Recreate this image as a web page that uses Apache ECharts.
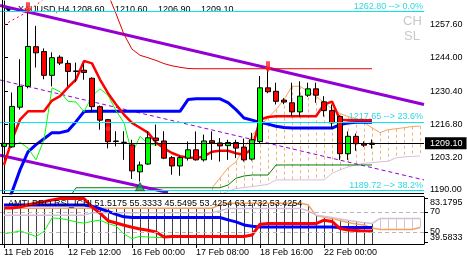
<!DOCTYPE html>
<html><head><meta charset="utf-8">
<script src="https://cdn.jsdelivr.net/npm/echarts@6/dist/echarts.min.js"></script>
<style>html,body{margin:0;padding:0;background:#fff}#c{width:467px;height:265px}</style>
</head><body><div id="c"></div>
<script>
// ---------- DATA ----------
const categories = Array.from({length: 53}, (_, i) => String(i));
const tickIndex = [0, 8, 16, 24, 32, 40];
const tickLabels = ['11 Feb 2016', '12 Feb 12:00', '16 Feb 00:00', '17 Feb 08:00', '18 Feb 16:00', '22 Feb 00:00'];
const priceTicks = [1257.60, 1244.00, 1230.40, 1216.80, 1203.20, 1190.00];
const rsiTicks = [83.1795, 70, 50, 39.5833];

// [open, close, low, high]
const candles = [
  [1207.8,1209.0,1207.5,1209.3],[1207.6,1224.1,1207.2,1229.8],[1223.8,1232.3,1222.8,1243.4],[1232.3,1248.6,1231.5,1262.8],
  [1248.5,1246.0,1240.0,1257.0],[1246.5,1236.8,1235.2,1247.8],[1236.8,1244.0,1232.3,1246.2],[1244.2,1241.8,1241.0,1245.0],
  [1241.7,1238.4,1232.3,1243.0],[1238.6,1238.4,1234.0,1242.0],[1238.9,1238.0,1235.0,1241.5],[1235.6,1224.0,1221.7,1236.0],
  [1224.0,1218.5,1214.6,1224.5],[1218.7,1209.7,1207.0,1219.0],[1210.0,1209.8,1207.8,1214.0],[1209.5,1209.3,1202.3,1214.0],
  [1208.4,1197.8,1194.5,1210.5],[1197.4,1200.2,1193.4,1201.6],[1200.6,1211.3,1200.3,1214.0],[1211.2,1210.2,1208.0,1216.7],
  [1210.0,1203.0,1202.6,1214.0],[1203.2,1199.8,1196.2,1203.8],[1199.8,1203.2,1195.8,1204.0],[1203.0,1206.4,1202.0,1209.8],
  [1206.4,1202.3,1202.0,1213.9],[1202.3,1210.0,1201.6,1212.6],[1210.1,1209.2,1202.3,1213.9],[1209.2,1208.0,1201.6,1211.2],
  [1208.1,1209.4,1202.3,1210.5],[1209.4,1207.1,1203.0,1210.5],[1207.5,1202.3,1201.6,1211.0],[1202.6,1210.5,1202.0,1213.3],
  [1209.8,1231.7,1209.0,1236.5],[1231.7,1230.1,1229.5,1239.3],[1230.3,1226.2,1224.9,1233.8],[1226.7,1225.9,1225.0,1227.5],
  [1225.6,1221.9,1220.1,1233.8],[1221.9,1228.3,1220.0,1234.4],[1228.7,1231.3,1228.0,1233.8],[1231.3,1228.7,1225.6,1233.8],
  [1226.0,1222.4,1220.0,1228.3],[1222.4,1217.4,1214.9,1224.9],[1220.0,1204.8,1202.3,1220.5],[1204.8,1211.9,1202.3,1213.9],
  [1211.9,1208.9,1206.0,1213.0],[1208.9,1208.3,1207.6,1209.8],[1208.6,1209.1,1206.9,1210.6]
];

const redThick = [1200.2,1210.5,1218.7,1222.1,1222.1,1222.1,1226.5,1228.3,1231.9,1235.1,1242.7,1241.7,1235.1,1229.5,1224.9,1220.8,
  1217.4,1215.4,1213.4,1209.4,1207.0,1205.1,1203.8,1203.3,1203.1,1203.7,1205.6,1206.0,1206.0,1205.0,1204.4,1206.8,
  1218.7,1219.8,1220.1,1220.1,1220.1,1220.1,1220.1,1220.1,1224.9,1226.1,1218.7,1218.5,1218.5,1218.5,1218.5];

const blueThick = [1181.0,1189.2,1198.2,1205.6,1208.5,1210.9,1213.4,1213.4,1214.2,1217.9,1222.0,
  1222.1,1222.1,1222.1,1222.1,1222.1,1222.1,1222.1,1222.1,1222.1,1222.1,1222.1,1222.1,
  1226.9,1227.2,1227.2,1227.2,1227.2,1225.7,1222.8,1219.4,1218.5,1217.6,1216.9,1216.0,1215.5,
  1215.3,1215.3,1215.3,1215.3,1215.3,1215.3,1216.7,1217.3,1217.6,1217.6,1217.6];

const redThinDotted = [1257.3,1259.3,1261.0,1263.0,1265.5,1268.0];
const redThin = [null,null,null,null,null,null,null,null,null,null,null,null,null,
  1270.0,1262.0,1253.5,1247.5,1245.0,1244.0,1242.9,1241.6,1240.7,1240.1,1239.6,
  1239.5,1239.5,1239.5,1239.5,1239.5,1239.5,1239.5,1239.5,1239.5,1239.5,1239.5,1239.5,
  1239.5,1239.5,1239.5,1239.5,1239.5,1239.5,1239.5,1239.5,1239.5,1239.5,1239.5];

const darkGreen = [null,null,null,null,null,null,null,null,1186.0,
  1190.9,1190.9,1190.9,1190.9,1190.9,1190.9,1190.9,1190.9,1190.9,1190.9,1190.9,1190.9,1190.9,1190.9,1190.9,1190.9,1190.9,1190.9,1190.9,
  1192.0,1194.8,1195.7,1196.1,1196.1,1196.1,
  1200.2,1200.2,1200.2,1200.2,1200.2,1200.2,1200.2,1200.2,1200.2,1200.2,1200.2,1200.2,1200.2];

const senkouA = [null,null,null,null,null,null,null,null,null,null,null,null,null,null,null,null,null,null,null,null,null,null,null,null,null,null,
  1190.8,1194.9,1199.0,1201.5,1207.3,1212.2,1216.0,1219.5,1222.8,1226.9,1232.3,1232.4,1230.2,1228.2,1225.7,1223.2,
  1221.2,1220.0,1219.1,1217.5,1215.4,1213.4,1214.6,1215.0,1215.4,1215.9,1216.1];
const senkouB = [null,null,null,null,null,null,null,null,null,null,null,null,null,null,null,null,null,null,null,null,null,null,null,null,null,null,
  1187.0,1188.0,1189.5,1190.6,1191.0,1191.4,1191.8,1192.3,1194.1,1194.1,1194.1,1194.1,1194.1,1194.1,1194.1,1196.8,
  1198.2,1199.4,1200.3,1200.9,1201.1,1201.5,1201.7,1203.1,1203.5,1203.7,1203.9];

// trend channel lines [barPosition, price]
const channelTop = [[-0.5, 1265.3], [52.5, 1224.9]];
const channelMid = [[-0.5, 1234.9], [52.5, 1194.1]];
const channelLow = [[-0.5, 1204.2], [20.5, 1189.0]];

const arrowsDown = [[3, 1264.4], [33, 1240.3]];
const arrowsUp = [[17, 1191.3]];
const dots = [[13, 1215.0]];

const fibLevels = [1262.80, 1217.65, 1189.72];
const fibNames = ['0.0%', '23.6%', '38.2%'];
const lastPrice = 1209.10;
const titleValues = ['1208.60', '1210.60', '1206.90', '1209.10'];
const subTitle = 'AMTLPRO RSI_ICHI 51.5175 55.3333 45.5495 53.4254 63.1732 53.4254';

// RSI-Ichimoku sub panel
const rsiRed = [73.7,73.7,74.7,76.7,78.7,80,81.7,83.2,83.2,83.2,83.2,74.7,68.7,61.2,58.9,56.7,54.7,52.9,51.7,50,45,
  45.5,45.5,45.5,45.5,45.5,45.5,45.5,45.5,45.5,45.5,47,57.7,58.4,58.4,58.4,58.4,58.4,58.4,58.4,61.7,60.5,53.4,52,51.5,51,51];
const rsiBlue = [76.7,76.7,76.7,76.7,76.7,76.7,76.7,76.7,76.7,76.7,76.7,75.5,73,70.5,67.5,65,
  64.4,64.4,64.4,64.4,64.4,64.4,64.4,64.4,64.4,64.4,64.4,64.4,62,60,57,55.7,
  55,55,55,55,55,55,55,55,55,55,54.5,54.5,54.5,54.5,54.5];
const rsiGreen = [48.4,49.5,51,48.5,45.5,50.5,64,63.4,62,60,58.8,60.5,61.7,58.4,56,48,43.4,45.7,45,44.6,44.4];
const rsiA = [73.5,73.5,73.5,73.5,73.5,73.5,73.5,73.5,73.5,73.5,73.5,73.5,73.5,73.5,73.5,73.5,73.5,73.5,73.5,73.5,73.5,73.5,73.5,73.5,73.5,73.5,73.5,
  77,78.5,78.5,78.5,78.5,78.5,78.5,78.5,78.5,78.5,78.5,77,66.5,64.5,63.5,61.5,59.5,58,57,54,52.5,52.5,52.5,52.5,52.5,54.5];
const rsiB = [66.7,66.7,66.7,66.7,66.7,66.7,66.7,66.7,66.7,66.7,66.7,69,69,69,69,69,69,69,69,69,69,69,69,69,69,69,69,
  71,73.4,73.4,73.4,73.4,73.4,73.4,73.4,73.4,73.4,73.4,71,66.7,65.5,64.5,63,61.7,60.5,59.3,58.4,63.4,63.4,63.4,63.4,63.4,63.4];

// ---------- CHART ----------
const MAIN_MIN = 1188.76, MAIN_MAX = 1267.16;
const SUB_MIN = 38.1, SUB_MAX = 84.7;
const FONT = 'Liberation Sans';
const chikou = candles.slice(26).map(c => c[1]);

function vlines(color, width, dash) {
  return function (params, api) {
    const x = api.value(0);
    const p1 = api.coord([x, api.value(1)]);
    const p2 = api.coord([x, api.value(2)]);
    const px = Math.round(p1[0]) + 0.5;
    return { type: 'line', shape: { x1: px, y1: p1[1], x2: px, y2: p2[1] },
      style: { stroke: color, lineWidth: width, lineDash: dash } };
  };
}
const cloudMain = [];
senkouA.forEach((a, i) => { if (a != null && senkouB[i] != null) cloudMain.push([i, a, senkouB[i]]); });
const histSub = [], cloudSub = [];
for (let i = 0; i < 53; i++) {
  if (i < candles.length) histSub.push([i, SUB_MIN, Math.max(rsiA[i], rsiB[i])]);
  else cloudSub.push([i, rsiA[i], rsiB[i]]);
}

const lineS = (name, data, color, width, extra) => Object.assign({
  type: 'line', name, data, xAxisIndex: 0, yAxisIndex: 0, symbol: 'none', silent: true,
  lineStyle: { color, width }, connectNulls: false, clip: true, z: 3
}, extra || {});

const fibMark = {
  type: 'line', xAxisIndex: 0, yAxisIndex: 0, data: [], symbol: 'none', silent: true,
  markLine: {
    symbol: 'none', silent: true, animation: false,
    data: fibLevels.map((v, k) => ({
      yAxis: v,
      lineStyle: { color: '#00e8f0', width: 1, type: 'solid' },
      label: { show: true, position: 'insideEndTop', distance: [1, 1],
        formatter: v.toFixed(2) + ' --> ' + fibNames[k],
        color: '#2fd9e0', fontSize: 9, fontFamily: FONT }
    })).concat([{
      yAxis: lastPrice,
      lineStyle: { color: '#000', width: 1, type: 'solid' },
      label: { show: true, position: 'end', distance: 1, formatter: lastPrice.toFixed(2),
        color: '#fff', backgroundColor: '#000', padding: [2, 4, 1, 5], fontSize: 9, fontFamily: FONT }
    }])
  },
  z: 2
};

// y-pixel helpers for the two extreme RSI labels (placed inside the panel like the original)
const option = {
  animation: false,
  textStyle: { fontFamily: FONT },
  grid: [
    { left: 0, right: 43, top: 1, height: 192, show: false },
    { left: 0, right: 43, top: 197, height: 47, show: false }
  ],
  xAxis: [
    { type: 'category', gridIndex: 0, data: categories, boundaryGap: true,
      axisLine: { show: false }, axisTick: { show: false }, axisLabel: { show: false }, splitLine: { show: false } },
    { type: 'category', gridIndex: 1, data: categories, boundaryGap: true,
      axisLine: { show: true, lineStyle: { color: '#000', width: 1 } },
      axisTick: { show: true, alignWithLabel: true, length: 4, interval: (i) => tickIndex.includes(i), lineStyle: { color: '#000' } },
      axisLabel: { show: true, interval: (i) => tickIndex.includes(i), align: 'left', margin: 4,
        formatter: (v, i) => { const k = tickIndex.indexOf(i); return k >= 0 ? tickLabels[k] : ''; },
        fontSize: 9, color: '#000', fontFamily: FONT },
      splitLine: { show: false } },
    { type: 'value', gridIndex: 0, min: -0.5, max: 52.5, show: false }
  ],
  yAxis: [
    { type: 'value', gridIndex: 0, position: 'right', min: MAIN_MIN, max: MAIN_MAX, scale: true,
      axisLine: { show: true, lineStyle: { color: '#000' } },
      axisTick: { show: true, length: 4, customValues: priceTicks, lineStyle: { color: '#000' } },
      axisLabel: { show: true, customValues: priceTicks, formatter: v => v.toFixed(2), margin: 6,
        fontSize: 9, color: '#000', fontFamily: FONT },
      splitLine: { show: false } },
    { type: 'value', gridIndex: 1, position: 'right', min: SUB_MIN, max: SUB_MAX, scale: true,
      axisLine: { show: true, lineStyle: { color: '#000' } },
      axisTick: { show: true, length: 4, customValues: rsiTicks, lineStyle: { color: '#000' } },
      axisLabel: { show: true, customValues: [rsiTicks[1], rsiTicks[2]], margin: 6, fontSize: 9, color: '#000', fontFamily: FONT,
        formatter: v => String(Math.round(v)) },
      splitLine: { show: false } }
  ],
  graphic: [
    { type: 'polygon', z: 0, shape: { points: [[5, 8], [12, 8], [8.5, 12]] }, style: { fill: '#000' } },
    { type: 'text', z: 0, x: 18, y: 10, style: { text: 'XAUUSD,H4', font: '9px "Liberation Sans"', fill: '#000', verticalAlign: 'middle' } },
    { type: 'text', z: 0, x: 72, y: 10, style: { text: titleValues[0], font: '9px "Liberation Sans"', fill: '#000', verticalAlign: 'middle' } },
    { type: 'text', z: 0, x: 115, y: 10, style: { text: titleValues[1], font: '9px "Liberation Sans"', fill: '#000', verticalAlign: 'middle' } },
    { type: 'text', z: 0, x: 158, y: 10, style: { text: titleValues[2], font: '9px "Liberation Sans"', fill: '#000', verticalAlign: 'middle' } },
    { type: 'text', z: 0, x: 201, y: 10, style: { text: titleValues[3], font: '9px "Liberation Sans"', fill: '#000', verticalAlign: 'middle' } },
    { type: 'text', z: 0, x: 403, y: 21, style: { text: 'CH', font: '13px "Liberation Sans"', fill: '#c8c8c8', verticalAlign: 'middle' } },
    { type: 'text', z: 0, x: 404, y: 36, style: { text: 'SL', font: '13px "Liberation Sans"', fill: '#c8c8c8', verticalAlign: 'middle' } },
    { type: 'text', z: 50, x: 8, y: 204, style: { text: subTitle, font: '9px "Liberation Sans"', fill: '#000', verticalAlign: 'middle' } },
    { type: 'text', z: 50, x: 430, y: 203, style: { text: String(rsiTicks[0]), font: '9px "Liberation Sans"', fill: '#000', verticalAlign: 'middle' } },
    { type: 'text', z: 50, x: 430, y: 238, style: { text: String(rsiTicks[3]), font: '9px "Liberation Sans"', fill: '#000', verticalAlign: 'middle' } },
    { type: 'line', z: 50, shape: { x1: 2.5, y1: 0, x2: 2.5, y2: 193 }, style: { stroke: '#000', lineWidth: 1 } },
    { type: 'line', z: 50, shape: { x1: 2.5, y1: 196, x2: 2.5, y2: 244 }, style: { stroke: '#000', lineWidth: 1 } },
    { type: 'line', z: 50, shape: { x1: 2, y1: 193.5, x2: 424, y2: 193.5 }, style: { stroke: '#000', lineWidth: 1 } },
    { type: 'line', z: 50, shape: { x1: 2, y1: 196.5, x2: 424, y2: 196.5 }, style: { stroke: '#000', lineWidth: 1 } }
  ],
  series: [
    // ---- main panel ----
    { type: 'custom', xAxisIndex: 0, yAxisIndex: 0, data: cloudMain, clip: true, silent: true, z: 1,
      encode: { x: 0, y: [1, 2] }, renderItem: vlines('#f5b07a', 1, [3, 3]) },
    fibMark,
    lineS('senkouA', senkouA, '#f4a460', 1),
    lineS('senkouB', senkouB, '#d8bfd8', 1),
    lineS('darkGreen', darkGreen, '#008000', 1),
    lineS('chTop', channelTop, '#9400d3', 3, { xAxisIndex: 2 }),
    lineS('chMid', channelMid, '#9400d3', 1, { xAxisIndex: 2, lineStyle: { color: '#9400d3', width: 1, type: [4, 3] } }),
    lineS('chLow', channelLow, '#9400d3', 3, { xAxisIndex: 2 }),
    lineS('redThinDotted', redThinDotted, '#ff0000', 1, { lineStyle: { color: '#ff0000', width: 1, type: [2, 3] } }),
    lineS('redThin', redThin, '#e00000', 1),
    lineS('blue', blueThick, '#0000ff', 3),
    lineS('chikou', chikou, '#00ff00', 1),
    lineS('red', redThick, '#ff0000', 2.5),
    { type: 'candlestick', xAxisIndex: 0, yAxisIndex: 0, data: candles, barWidth: 5, silent: true, z: 4,
      itemStyle: { color: '#00ff00', color0: '#ff0000', borderColor: '#000', borderColor0: '#000', borderWidth: 1 } },
    { type: 'scatter', xAxisIndex: 0, yAxisIndex: 0, data: arrowsDown, silent: true, z: 6,
      symbol: 'path://M2,0 L6,0 L6,6 L8,6 L4,11 L0,6 L2,6 Z', symbolSize: [8, 11],
      itemStyle: { color: '#ff2020' } },
    { type: 'scatter', xAxisIndex: 0, yAxisIndex: 0, data: arrowsUp, silent: true, z: 6,
      symbol: 'triangle', symbolSize: [9, 8], itemStyle: { color: '#20a050', borderColor: '#006030', borderWidth: 1 } },
    { type: 'scatter', xAxisIndex: 0, yAxisIndex: 0, data: dots, silent: true, z: 6,
      symbol: 'circle', symbolSize: 5, itemStyle: { color: '#ff3030' } },
    // ---- sub panel ----
    { type: 'custom', xAxisIndex: 1, yAxisIndex: 1, data: histSub, clip: true, silent: true, z: 1,
      encode: { x: 0, y: [1, 2] }, renderItem: vlines('#404040', 1, null) },
    { type: 'custom', xAxisIndex: 1, yAxisIndex: 1, data: cloudSub, clip: true, silent: true, z: 1,
      encode: { x: 0, y: [1, 2] }, renderItem: vlines('#d8bfd8', 1, null) },
    { type: 'line', xAxisIndex: 1, yAxisIndex: 1, data: rsiA, symbol: 'none', silent: true, z: 2,
      lineStyle: { color: '#f4a460', width: 1.5 },
      markLine: { symbol: 'none', silent: true, label: { show: false },
        lineStyle: { color: '#b8b8b8', width: 1, type: [4, 3] }, data: [{ yAxis: 70 }, { yAxis: 50 }] } },
    { type: 'line', xAxisIndex: 1, yAxisIndex: 1, data: rsiB, symbol: 'none', silent: true, z: 2,
      lineStyle: { color: '#d8bfd8', width: 1.5 } },
    { type: 'line', xAxisIndex: 1, yAxisIndex: 1, data: rsiGreen, symbol: 'none', silent: true, z: 3,
      lineStyle: { color: '#00ff00', width: 1 } },
    { type: 'line', xAxisIndex: 1, yAxisIndex: 1, data: rsiBlue, symbol: 'none', silent: true, z: 3,
      lineStyle: { color: '#0000ff', width: 3 } },
    { type: 'line', xAxisIndex: 1, yAxisIndex: 1, data: rsiRed, symbol: 'none', silent: true, z: 4,
      lineStyle: { color: '#ff0000', width: 3 } }
  ]
};

const chart = echarts.init(document.getElementById('c'), null, { renderer: 'canvas', width: 467, height: 265 });
chart.setOption(option);
</script></body></html>
